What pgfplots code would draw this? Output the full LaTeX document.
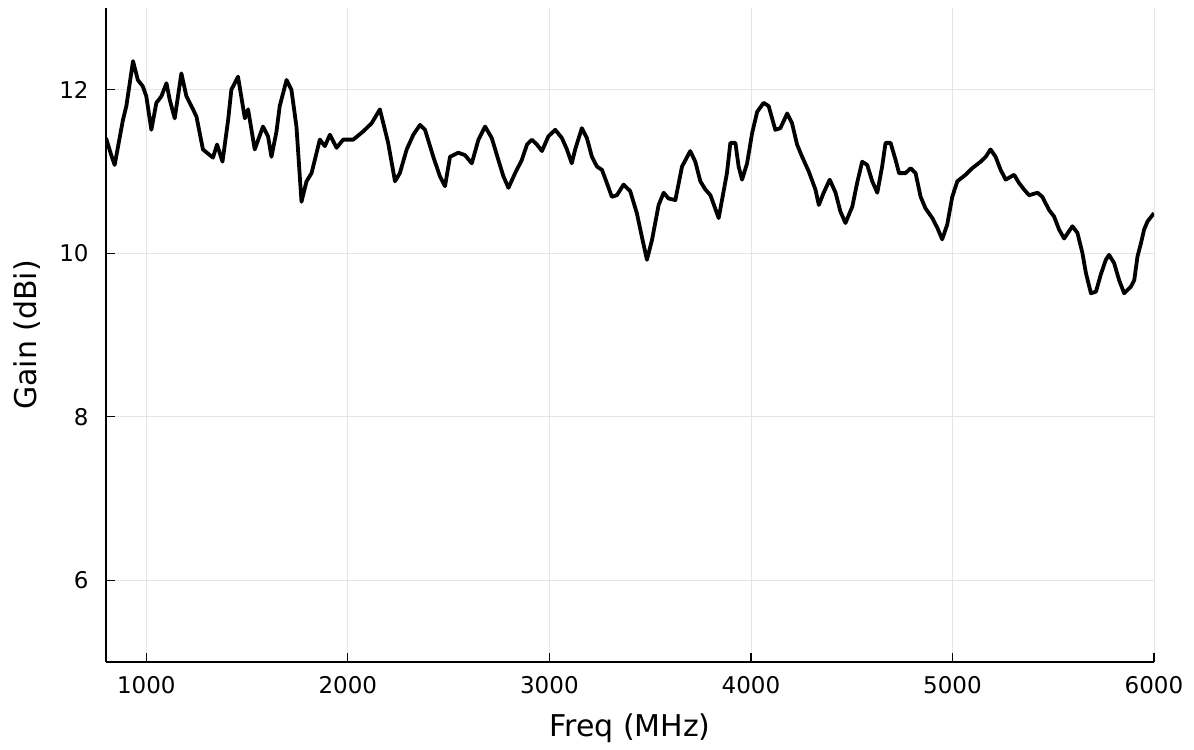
\documentclass[border=0pt]{standalone}
\usepackage{fontspec}
\setmainfont{DejaVu Sans}
\usepackage{pgfplots}
\pgfplotsset{compat=1.18}
\begin{document}
\begin{tikzpicture}
\begin{axis}[
  width=524pt, height=327pt, scale only axis,
  xmin=800, xmax=6000, ymin=5, ymax=13,
  axis x line*=bottom, axis y line*=left,
  axis line style={line width=0.8pt, -},
  xtick={1000,2000,3000,4000,5000,6000},
  ytick={6,8,10,12},
  tick align=inside,
  major tick length=4.5pt,
  tick style={line width=0.6pt, black},
  grid=major,
  major grid style={line width=0.4pt, color=black!10},
  /pgf/number format/assume math mode=true,
  /pgf/number format/1000 sep={},
  xticklabel style={font=\fontsize{11.5}{13}\selectfont, anchor=north, inner sep=0pt, yshift=-7pt},
  yticklabel style={font=\fontsize{11.5}{13}\selectfont, anchor=east, inner sep=0pt, xshift=-8.5pt},
  xlabel={Freq (MHz)},
  ylabel={Gain (dBi)},
  every axis x label/.style={at={(axis description cs:0.5,-0.114)}, anchor=base, font=\fontsize{15}{17}\selectfont},
  every axis y label/.style={at={(axis description cs:-0.0754,0.5)}, anchor=center, rotate=90, font=\fontsize{15}{17}\selectfont},
]
\addplot[black, line width=1.9pt, line join=round] coordinates {
(800,11.41)(826,11.20)(843,11.08)(884,11.63)(901,11.80)(934,12.35)(958,12.12)(983,12.04)
(1000,11.92)(1025,11.51)(1050,11.84)(1075,11.92)(1100,12.08)(1116,11.88)(1141,11.65)(1174,12.20)
(1199,11.92)(1232,11.76)(1249,11.67)(1281,11.27)(1315,11.20)(1331,11.17)(1351,11.33)(1378,11.12)
(1406,11.63)(1422,12.00)(1455,12.16)(1489,11.65)(1505,11.76)(1538,11.27)(1579,11.55)(1604,11.43)
(1621,11.18)(1646,11.49)(1662,11.80)(1696,12.12)(1720,12.00)(1745,11.55)(1770,10.63)(1795,10.88)
(1820,10.98)(1861,11.39)(1886,11.31)(1911,11.45)(1944,11.29)(1977,11.39)(2027,11.39)(2076,11.49)
(2118,11.59)(2159,11.76)(2200,11.35)(2234,10.88)(2258,10.98)(2292,11.27)(2325,11.45)(2358,11.57)
(2383,11.51)(2424,11.18)(2457,10.94)(2482,10.82)(2507,11.18)(2548,11.23)(2581,11.20)(2615,11.10)
(2648,11.39)(2681,11.55)(2714,11.41)(2747,11.14)(2772,10.94)(2797,10.80)(2830,10.98)(2863,11.14)
(2889,11.33)(2913,11.39)(2938,11.33)(2963,11.25)(2995,11.43)(3029,11.51)(3062,11.41)(3087,11.27)
(3111,11.10)(3128,11.27)(3161,11.53)(3186,11.41)(3211,11.18)(3236,11.06)(3261,11.02)(3285,10.86)
(3310,10.69)(3335,10.71)(3368,10.84)(3401,10.76)(3434,10.49)(3459,10.20)(3484,9.92)(3509,10.16)
(3542,10.59)(3567,10.74)(3591,10.67)(3625,10.65)(3658,11.06)(3699,11.25)(3724,11.12)(3749,10.88)
(3774,10.78)(3799,10.71)(3840,10.43)(3881,10.98)(3898,11.35)(3923,11.35)(3939,11.06)(3956,10.90)
(3981,11.10)(4006,11.47)(4031,11.73)(4063,11.84)(4088,11.80)(4121,11.51)(4146,11.53)(4180,11.71)
(4204,11.59)(4229,11.33)(4254,11.18)(4287,11.00)(4320,10.78)(4337,10.59)(4361,10.74)(4391,10.90)
(4420,10.74)(4444,10.51)(4469,10.37)(4503,10.57)(4527,10.86)(4552,11.12)(4577,11.08)(4602,10.88)
(4627,10.74)(4651,11.06)(4668,11.35)(4693,11.35)(4718,11.14)(4735,10.98)(4767,10.98)(4792,11.04)
(4817,10.98)(4842,10.69)(4866,10.55)(4900,10.43)(4925,10.31)(4949,10.17)(4974,10.35)(4999,10.69)
(5024,10.88)(5065,10.96)(5098,11.04)(5140,11.12)(5165,11.18)(5189,11.27)(5214,11.18)(5239,11.02)
(5264,10.90)(5306,10.96)(5330,10.86)(5355,10.78)(5380,10.71)(5422,10.74)(5446,10.69)(5479,10.53)
(5504,10.45)(5529,10.29)(5554,10.18)(5595,10.33)(5620,10.25)(5645,10.00)(5662,9.76)(5687,9.51)
(5712,9.53)(5736,9.74)(5761,9.92)(5777,9.98)(5802,9.88)(5827,9.67)(5852,9.51)(5885,9.59)
(5902,9.67)(5918,9.96)(5935,10.12)(5951,10.29)(5968,10.39)(6000,10.49)
};
\end{axis}
\path[use as bounding box] ([xshift=-53pt,yshift=-41pt]current axis.south west) rectangle ([xshift=20pt,yshift=4pt]current axis.north east);
\end{tikzpicture}
\end{document}
